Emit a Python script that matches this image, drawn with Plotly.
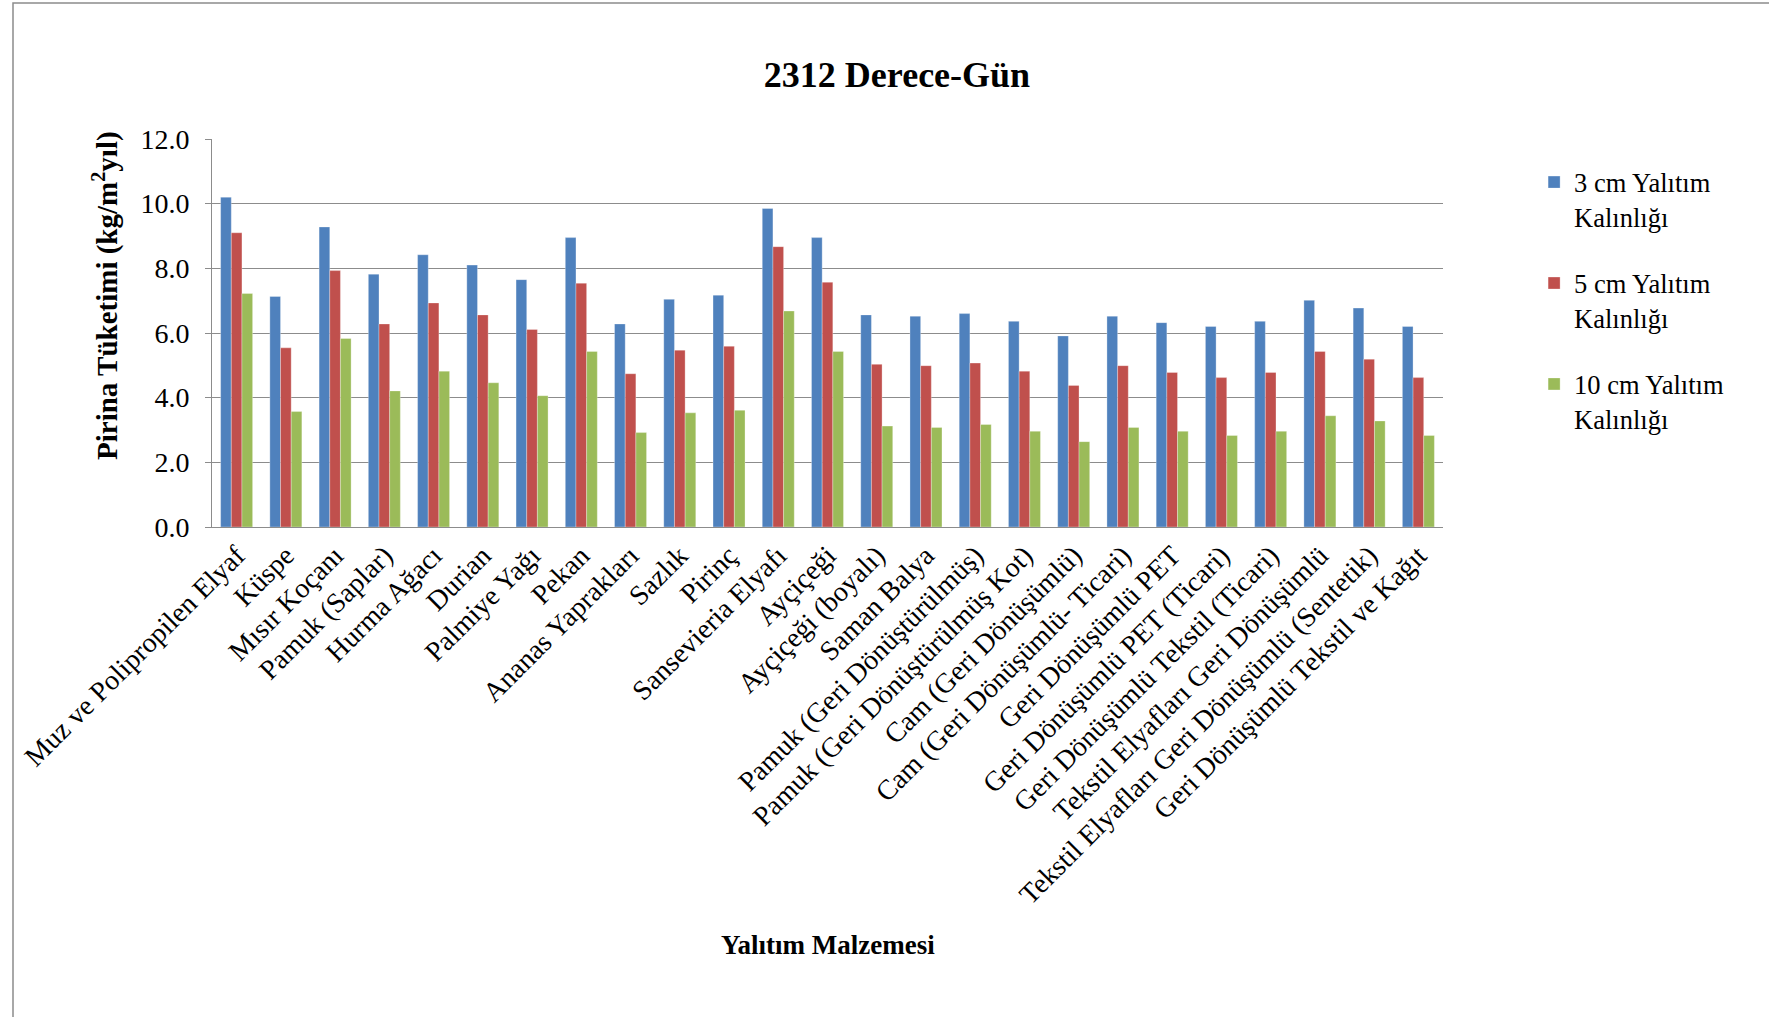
import plotly.graph_objects as go

categories = [
    "Muz ve Polipropilen Elyaf", "Küspe", "Mısır Koçanı", "Pamuk (Saplar)",
    "Hurma Ağacı", "Durian", "Palmiye Yağı", "Pekan", "Ananas Yaprakları",
    "Sazlık", "Pirinç", "Sansevieria Elyafı", "Ayçiçeği", "Ayçiçeği (boyalı)",
    "Saman Balya", "Pamuk (Geri Dönüştürülmüş)", "Pamuk (Geri Dönüştürülmüş Kot)",
    "Cam (Geri Dönüşümlü)", "Cam (Geri Dönüşümlü- Ticari)", "Geri Dönüşümlü PET",
    "Geri Dönüşümlü PET (Ticari)", "Geri Dönüşümlü Tekstil (Ticari)",
    "Tekstil Elyafları Geri Dönüşümlü", "Tekstil Elyafları Geri Dönüşümlü (Sentetik)",
    "Geri Dönüşümlü Tekstil ve Kağıt",
]

cm3 = [10.20, 7.13, 9.28, 7.82, 8.42, 8.10, 7.65, 8.95, 6.28, 7.04, 7.17, 9.85, 8.95,
       6.56, 6.52, 6.60, 6.36, 5.91, 6.52, 6.32, 6.20, 6.36, 7.01, 6.77, 6.20]
cm5 = [9.10, 5.54, 7.93, 6.28, 6.93, 6.56, 6.11, 7.54, 4.74, 5.47, 5.59, 8.67, 7.57,
       5.03, 4.99, 5.07, 4.82, 4.38, 4.99, 4.78, 4.62, 4.78, 5.43, 5.19, 4.62]
cm10 = [7.22, 3.57, 5.83, 4.21, 4.82, 4.46, 4.06, 5.43, 2.92, 3.53, 3.61, 6.68, 5.43,
        3.12, 3.08, 3.17, 2.96, 2.64, 3.08, 2.96, 2.83, 2.96, 3.44, 3.28, 2.83]

series_names = ["3 cm Yalıtım<br>Kalınlığı", "5 cm Yalıtım<br>Kalınlığı", "10 cm Yalıtım<br>Kalınlığı"]
series_values = [cm3, cm5, cm10]
colors = ["#4F81BD", "#C0504D", "#9BBB59"]

FONT = "Liberation Serif"
W, H = 1769, 1017
L, R, T, B = 212, 1443, 139, 527

fig = go.Figure()
for i, (name, vals, col) in enumerate(zip(series_names, series_values, colors)):
    fig.add_trace(go.Bar(
        x=categories, y=vals, name=name, legendgroup=f"g{i}",
        marker=dict(color=col, line=dict(color="rgba(255,255,255,0.5)", width=0.6)),
    ))

fig.update_layout(
    width=W, height=H,
    margin=dict(l=L, r=W - R, t=T, b=H - B, autoexpand=False),
    paper_bgcolor="white", plot_bgcolor="white",
    font=dict(family=FONT, size=26, color="black"),
    barmode="group", bargap=0.35, bargroupgap=0.0,
    title=dict(text="<b>2312 Derece-Gün</b>", x=(897) / W, xanchor="center",
               y=1 - 74 / H, yanchor="middle", font=dict(size=36, family=FONT)),
    legend=dict(x=1.074, y=0.95, xanchor="left", yanchor="top",
                font=dict(size=26.5, family=FONT), valign="top",
                tracegroupgap=29, bgcolor="rgba(0,0,0,0)", itemwidth=30),
    showlegend=True,
)

fig.update_yaxes(
    range=[0, 12], dtick=2, tickformat=".1f",
    showgrid=True, gridcolor="#8c8c8c", gridwidth=1,
    showline=True, linecolor="#8c8c8c", linewidth=1,
    ticks="outside", ticklen=6, tickcolor="#8c8c8c",
    tickfont=dict(size=28, family=FONT), ticklabelstandoff=10,
    zeroline=False,
)
fig.update_xaxes(
    tickangle=-45, showline=True, linecolor="#8c8c8c", linewidth=1,
    tickfont=dict(size=28, family=FONT), ticks="",
)

pw, ph = R - L, B - T

fig.add_annotation(
    text="<b>Pirina Tüketimi (kg/m<sup>2</sup>yıl)</b>", xref="paper", yref="paper",
    x=(105 - L) / pw, y=(B - 296) / ph, xanchor="center", yanchor="middle",
    textangle=-90, showarrow=False, font=dict(size=29, family=FONT),
)

fig.add_annotation(
    text="<b>Yalıtım Malzemesi</b>", xref="paper", yref="paper",
    x=0.5, y=(B - 945) / ph, xanchor="center", yanchor="middle",
    showarrow=False, font=dict(size=27, family=FONT),
)

fig.add_shape(
    type="rect", xref="paper", yref="paper",
    x0=(13 - L) / pw, x1=(W + 10 - L) / pw,
    y0=(B - (H + 10)) / ph, y1=(B - 3) / ph,
    line=dict(color="#8c8c8c", width=1.5), fillcolor="rgba(0,0,0,0)", layer="below",
)

fig.write_html("out.html")
